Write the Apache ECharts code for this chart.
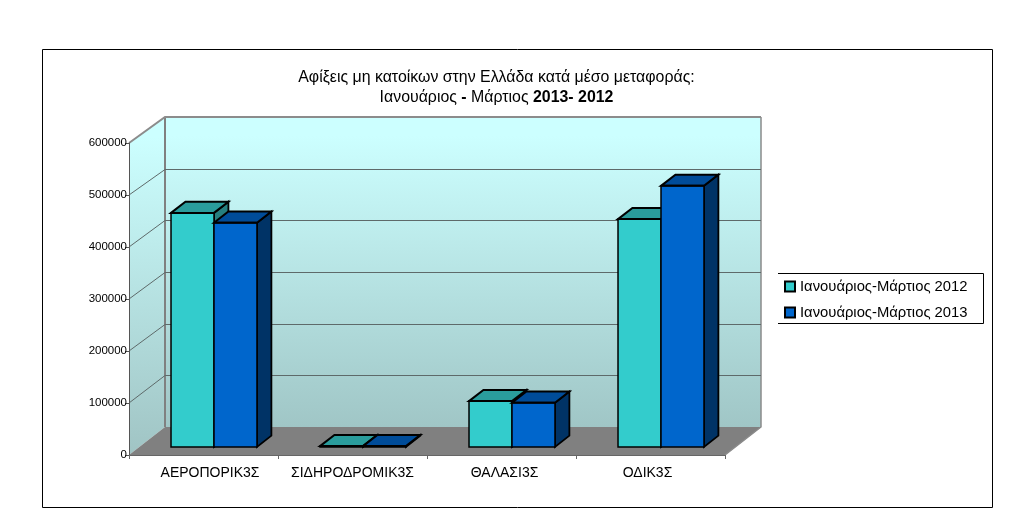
<!DOCTYPE html>
<html><head><meta charset="utf-8">
<script src="https://cdn.jsdelivr.net/npm/echarts@6/dist/echarts.min.js"></script>
<style>html,body{margin:0;padding:0;background:#fff}#c{width:1011px;height:531px}</style></head>
<body><div id="c"></div>
<script>
const categories = ['ΑΕΡΟΠΟΡΙΚ3Σ','ΣΙΔΗΡΟΔΡΟΜΙΚ3Σ','ΘΑΛΑΣΙ3Σ','ΟΔΙΚ3Σ'];
const seriesNames = ['Ιανουάριος-Μάρτιος 2012','Ιανουάριος-Μάρτιος 2013'];
const values2012 = [450000, 1500, 88000, 438000];
const values2013 = [431000, 1500, 85000, 502000];
const yTicks = [0,100000,200000,300000,400000,500000,600000];

const DX = 36;                    // wall depth, horizontal
const dyAt = v => -28 + 2*v/600000; // wall depth, vertical, narrows slightly upward
const DY = -28;
const F = 0.29, B = 0.69;         // bar depth span as fractions of wall depth
const GROUP = 0.577;              // group width as a fraction of a band
const labelShift = [13, 0, 6, -6]; // label padding (centre moves by half)
const palette = [
  {front:'#33CCCC', top:'#2A9C9C', side:'#267F7F'},
  {front:'#0066CC', top:'#004C99', side:'#003366'}
];
const font = '"Liberation Sans", Arial, sans-serif';

function bar3d(idx){
  return function(params, api){
    const band = api.size([1,0])[0];
    const w = band*GROUP/2;
    const p = api.coord([api.value(0), api.value(1)]);
    const base = api.coord([api.value(0), 0]);
    const shift = 10.5;
    const x0 = p[0] + shift - w + idx*w, x1 = x0 + w;
    const yT = p[1] + DY*F, yB = base[1] + DY*F;
    const ddx = DX*(B-F), ddy = DY*(B-F);
    const c = palette[idx];
    const st = (fill, lw)=>({fill, stroke:'#000', lineWidth:lw, lineJoin:'miter'});
    return {type:'group', children:[
      {type:'polygon', shape:{points:[[x1,yT],[x1+ddx,yT+ddy],[x1+ddx,yB+ddy],[x1,yB]]}, style:st(c.side,1.8)},
      {type:'polygon', shape:{points:[[x0,yT],[x0+ddx,yT+ddy],[x1+ddx,yT+ddy],[x1,yT]]}, style:st(c.top,2)},
      {type:'polygon', shape:{points:[[x0,yT],[x1,yT],[x1,yB],[x0,yB]]}, style:st(c.front,1.5)},
      {type:'line', shape:{x1:x0,y1:yT,x2:x1,y2:yT}, style:{stroke:'#000',lineWidth:2}}
    ]};
  };
}

function frame(params, api){
  const v = api.value(0);
  const band = api.size([1,0])[0];
  const L = api.coord([0,v])[0]-band/2, R = api.coord([3,v])[0]+band/2;
  const y = api.coord([0,v])[1];
  const y0 = api.coord([0,0])[1], yTop = api.coord([0,600000])[1];
  const backY = Math.round(y + dyAt(v)) + 0.5;
  const bT = yTop + dyAt(600000), b0 = y0 + dyAt(0);
  const children = [];
  if (v === 0) {
    const grad = (b)=>new echarts.graphic.LinearGradient(0,0,0,1,[{offset:0,color:'#CCFFFF'},{offset:0.06,color:'#CCFFFF'},{offset:1,color:b}]);
    children.push({type:'polygon', shape:{points:[[L,y0],[L,yTop],[L+DX,bT],[L+DX,b0]]}, style:{fill:grad('#A0C4C4'), stroke:'none'}});
    children.push({type:'rect', shape:{x:L+DX,y:bT,width:R-L,height:b0-bT}, style:{fill:grad('#A0C6C6'), stroke:'none'}});
    children.push({type:'polygon', shape:{points:[[L,y0],[L+DX,b0],[R+DX,b0],[R,y0]]}, style:{fill:'#808080', stroke:'none'}});
    children.push({type:'polyline', shape:{points:[[R,y0],[R+DX,b0],[R+DX,bT]]}, style:{stroke:'#8A8A8A', lineWidth:1.5, fill:'none'}});
    children.push({type:'line', shape:{x1:L+DX,y1:b0,x2:L+DX,y2:bT}, style:{stroke:'#808080', lineWidth:2}});
  }
  if (v === 600000) {
    children.push({type:'polyline', shape:{points:[[L,y],[L+DX,bT],[R+DX,bT]]}, style:{stroke:'#8C8C8C', lineWidth:2, fill:'none'}});
  } else if (v !== 0) {
    children.push({type:'polyline', shape:{points:[[L,y],[L+DX,backY],[R+DX,backY]]}, style:{stroke:'#5E6A6A', lineWidth:1, fill:'none'}});
  }
  return {type:'group', children};
}

const chart = echarts.init(document.getElementById('c'), null, {renderer:'canvas', width:1011, height:531});
chart.setOption({
  animation:false,
  backgroundColor:'#fff',
  title:{
    left:491.5, top:63, textAlign:'center',
    text:'{n|Αφίξεις μη κατοίκων στην Ελλάδα κατά μέσο μεταφοράς:}\n{n|Ιανουάριος }{b|-}{n| Μάρτιος }{b|2013- 2012}',
    textStyle:{fontWeight:'normal',rich:{
      n:{fontFamily:font,fontSize:15.9,fontWeight:'normal',color:'#000',lineHeight:20},
      b:{fontFamily:font,fontSize:15.9,fontWeight:'bold',color:'#000',lineHeight:20}
    }}
  },
  graphic:[
    {type:'rect', z:-1, silent:true, shape:{x:42.5,y:49.5,width:950,height:458}, style:{fill:'#fff',stroke:'#000',lineWidth:1}},
    {type:'polyline', z:10, silent:true, shape:{points:[[778,273.5],[983.5,273.5],[983.5,323.5],[778,323.5]]}, style:{fill:'none',stroke:'#000',lineWidth:1}}
  ],
  legend:{
    show:true, data:seriesNames, orient:'vertical', left:778, top:273,
    padding:[6,14,5,6], itemGap:11, itemWidth:10, itemHeight:10, icon:'rect',
    backgroundColor:'transparent', borderWidth:0,
    textStyle:{fontFamily:font,fontSize:14.8,color:'#000'},
    selectedMode:false
  },
  grid:{left:129, top:143, width:596, height:312},
  xAxis:{
    type:'category', z:3,
    data:categories.map((c,i)=>({value:c,textStyle:{padding:labelShift[i]>=0?[0,0,0,labelShift[i]]:[0,-labelShift[i],0,0]}})),
    axisLine:{lineStyle:{color:'#666',width:1}},
    axisTick:{show:true,length:4,alignWithLabel:false,lineStyle:{color:'#666'}},
    axisLabel:{fontFamily:font,fontSize:14,color:'#000',margin:11,interval:0}
  },
  yAxis:{
    type:'value', min:0, max:600000, interval:100000, z:3,
    splitLine:{show:false},
    axisLine:{show:true,lineStyle:{color:'#555',width:1}},
    axisTick:{show:true,length:4,lineStyle:{color:'#555'}},
    axisLabel:{fontFamily:font,fontSize:11.5,color:'#000',margin:2,formatter:v=>String(v)}
  },
  series:[
    {type:'custom', name:'frame', z:1, silent:true, clip:false, coordinateSystem:'cartesian2d',
     encode:{y:0}, data:yTicks.map(v=>[v]), renderItem:frame},
    {type:'custom', name:seriesNames[0], z:5, clip:false, coordinateSystem:'cartesian2d',
     encode:{x:0,y:1}, itemStyle:{color:palette[0].front,borderColor:'#000',borderWidth:2},
     data:values2012.map((v,i)=>[i,v]), renderItem:bar3d(0)},
    {type:'custom', name:seriesNames[1], z:6, clip:false, coordinateSystem:'cartesian2d',
     encode:{x:0,y:1}, itemStyle:{color:palette[1].front,borderColor:'#000',borderWidth:2},
     data:values2013.map((v,i)=>[i,v]), renderItem:bar3d(1)}
  ]
});
</script></body></html>
